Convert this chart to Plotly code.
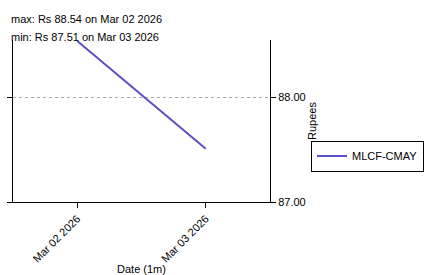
import plotly.graph_objects as go

dates = ["2026-03-02", "2026-03-03"]
prices = [88.54, 87.51]
series_name = "MLCF-CMAY"
max_label = "max: Rs 88.54 on Mar 02 2026"
min_label = "min: Rs 87.51 on Mar 03 2026"
y_ticks = [87.0, 88.0]
y_tick_text = ["87.00", "88.00"]
x_ticks = ["2026-03-02", "2026-03-03"]
x_tick_text = ["Mar 02 2026", "Mar 03 2026"]

font = dict(family="Liberation Sans, Arial, sans-serif", size=11, color="black")

fig = go.Figure()
fig.add_trace(go.Scatter(x=dates, y=prices, mode="lines", name=series_name,
                         line=dict(color="#5b50c8", width=2)))

fig.update_layout(
    width=424, height=275,
    margin=dict(l=13, r=154, t=40, b=73, autoexpand=False),
    paper_bgcolor="white", plot_bgcolor="white",
    font=font,
    showlegend=True,
    legend=dict(x=(311-13)/257, y=(202-156)/162, xanchor="left", yanchor="middle",
                bordercolor="black", borderwidth=1, font=font,
                itemwidth=30, tracegroupgap=0),
    xaxis=dict(
        range=["2026-03-01 12:00", "2026-03-03 12:00"],
        tickvals=x_ticks, ticktext=x_tick_text, tickangle=-45,
        showline=True, linecolor="black", linewidth=1,
        ticks="outside", ticklen=5, tickcolor="black",
        showgrid=False, zeroline=False, automargin=False,
        title=dict(text="Date (1m)", font=font, standoff=4),
    ),
    yaxis=dict(
        side="right", range=[87.0, 88.55],
        tickvals=y_ticks, ticktext=y_tick_text,
        showline=True, linecolor="black", linewidth=1, mirror="ticks",
        ticks="outside", ticklen=5, tickcolor="black",
        showgrid=True, gridcolor="#aaaaaa", griddash="dot", gridwidth=1,
        zeroline=False, automargin=False,
        title=dict(text="Rupees", font=font, standoff=2),
    ),
    annotations=[
        dict(text=max_label, xref="paper", yref="paper", x=(9-13)/257, y=(202-19)/162,
             xanchor="left", yanchor="middle", showarrow=False, font=font),
        dict(text=min_label, xref="paper", yref="paper", x=(9-13)/257, y=(202-37)/162,
             xanchor="left", yanchor="middle", showarrow=False, font=font),
    ],
)

fig.write_html("out.html")
